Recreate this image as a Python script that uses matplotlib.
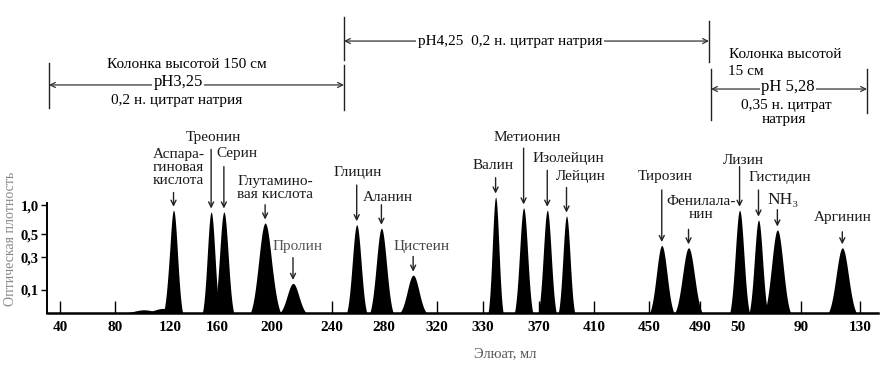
import numpy as np
import matplotlib
matplotlib.use("Agg")
import matplotlib.pyplot as plt

plt.rcParams['font.family'] = ['Liberation Serif', 'DejaVu Serif']

# ── Axis: three eluate scales drawn one after another ──
tick_ml = [40, 80, 120, 160, 200, 240, 280, 320, 330, 370, 410, 450, 490, 50, 90, 130]
tick_seg = [0, 0, 0, 0, 0, 0, 0, 0, 1, 1, 1, 1, 1, 2, 2, 2]
tick_pos = [60, 115, 170, 217, 272, 332, 384, 437, 483, 539, 594, 649, 700, 738, 801, 860]

# optical density scale of the original (value -> height of the printed axis)
od_ticks = [0.1, 0.3, 0.5, 1.0]
od_labels = ['0,1', '0,3', '0,5', '1,0']
od_ref = [0, 0.1, 0.3, 0.5, 1.0, 2.0]
od_height = [0, 23, 56, 79, 108, 140]

# ── Peaks ──
peak_names = ['Аспара-\nгиновая\nкислота', 'Треонин', 'Серин', 'Глутамино-\nвая кислота',
              'Пролин', 'Глицин', 'Аланин', 'Цистеин', 'Валин', 'Метионин', 'Изолейцин',
              'Лейцин', 'Тирозин', 'Фенилала-\nнин', 'Лизин', 'Гистидин', 'NH₃', 'Аргинин']
peak_seg = [0, 0, 0, 0, 0, 0, 0, 0, 1, 1, 1, 1, 1, 1, 2, 2, 2, 2]
peak_ml = [123, 155, 165, 195, 214, 259, 278, 302, 339, 359, 376, 390, 460, 481, 51, 63, 75, 118]
peak_width = [13, 12.5, 12, 18, 15, 13, 15, 17, 9, 11, 11, 10, 16, 18, 10.5, 10, 14, 16]
peak_od = [0.91, 0.88, 0.88, 0.69, 0.14, 0.66, 0.60, 0.19, 1.25, 0.95, 0.91, 0.81,
           0.40, 0.38, 0.91, 0.74, 0.57, 0.38]

# small unlabelled rise before aspartic acid
hump_ml = [101, 115]
hump_width = [26, 26]
hump_od = [0.014, 0.02]

# label placement: x shift from peak, text height and arrow start (axes fraction)
label_dx = [5, 2, 13, 10, 5, 1, 7, 8, -3, 4, 21, 14, 4, 13, 4, 21, 6, 0]
label_y = [1.18, 1.43, 1.30, 1.02, 0.54, 1.14, 0.94, 0.54, 1.20, 1.43, 1.26, 1.11,
           1.11, 0.85, 1.24, 1.10, 0.92, 0.78]
arrow_y = [0.98, 1.33, 1.19, 0.88, 0.45, 1.04, 0.88, 0.46, 1.10, 1.34, 1.16, 1.02,
           1.00, 0.68, 1.19, 1.00, 0.84, 0.66]
label_color = ['#1a1a1a'] * 18
label_color[4] = '#555555'
label_color[7] = '#444444'


def to_h(v):
    return np.interp(v, od_ref, od_height)


def to_od(h):
    return np.interp(h, od_height, od_ref)


def to_pos(ml, seg):
    m = np.array([v for v, s in zip(tick_ml, tick_seg) if s == seg], float)
    p = np.array([v for v, s in zip(tick_pos, tick_seg) if s == seg], float)
    ml = np.atleast_1d(np.asarray(ml, float))
    out = np.interp(ml, m, p)
    lo, hi = ml < m[0], ml > m[-1]
    out[lo] = p[0] + (ml[lo] - m[0]) * (p[1] - p[0]) / (m[1] - m[0])
    out[hi] = p[-1] + (ml[hi] - m[-1]) * (p[-1] - p[-2]) / (m[-1] - m[-2])
    return out


def peak(ax, seg, c, w, h):
    # bell on the printed height scale, brought down to the baseline at the base width
    half = w * 0.6
    g = np.linspace(c - half, c + half, 300)
    u = (g - c) / (half / 2.3)
    e0 = np.exp(-0.5 * 2.3 ** 2)
    shape = (np.exp(-0.5 * u ** 2) - e0) / (1 - e0)
    ax.fill_between(to_pos(g, seg), 0, to_od(to_h(h) * shape), color='black', lw=0, zorder=3)


fig = plt.figure(figsize=(8.89, 3.69), dpi=100)
ax = fig.add_axes([47 / 889, 56 / 369, 831 / 889, 123 / 369])
ax.set_yscale('function', functions=(to_h, to_od))
ax.set_xlim(47, 878)
ax.set_ylim(0, 1.47)

for c, w, h in zip(hump_ml, hump_width, hump_od):
    peak(ax, 0, c, w, h)
for i in range(len(peak_names)):
    peak(ax, peak_seg[i], peak_ml[i], peak_width[i], peak_od[i])
    x = to_pos(peak_ml[i], peak_seg[i])[0]
    ax.annotate('', xy=(x, peak_od[i]), xytext=(x, arrow_y[i]),
                xycoords='data', textcoords=('data', 'axes fraction'),
                arrowprops=dict(arrowstyle='->', lw=1.0, color='#222222',
                                shrinkA=0, shrinkB=2.5, mutation_scale=9),
                annotation_clip=False)
    fs = 12.5 if peak_names[i] == 'NH₃' else 11
    ax.text(x + label_dx[i], label_y[i], peak_names[i], transform=ax.get_xaxis_transform(),
            ha='center', va='center', fontsize=fs, color=label_color[i], linespacing=1.0)

# ── Axes styling ──
for s in ['top', 'right']:
    ax.spines[s].set_visible(False)
ax.spines['bottom'].set_linewidth(1.8)
ax.spines['left'].set_linewidth(1.4)
ax.spines['left'].set_bounds(0, 1.05)

ax.set_xticks(tick_pos)
ax.set_xticklabels([str(v) for v in tick_ml], fontsize=11, fontweight='bold')
ax.tick_params(axis='x', direction='in', length=9, width=1, pad=6)
ax.set_yticks(od_ticks)
ax.set_yticklabels(od_labels, fontsize=10.5, fontweight='bold')
ax.tick_params(axis='y', direction='out', length=4, width=1, pad=2)
ax.minorticks_off()

ax.set_xlabel('Элюат, мл', fontsize=10.5, color='#555555')
ax.xaxis.set_label_coords(0.551, -0.28)
ax.set_ylabel('Оптическая плотность', fontsize=10, color='#888888')
ax.yaxis.set_label_coords(-0.036, 0.6)

# ── Buffer / column annotations above the chart ──
xt = ax.get_xaxis_transform()


def vline(x, y0, y1):
    ax.plot([x, x], [y0, y1], color='#222222', lw=1.0, transform=xt, clip_on=False)


def span(x0, x1, y):
    ax.annotate('', xy=(x0, y), xytext=(x1, y), xycoords=xt, textcoords=xt,
                arrowprops=dict(arrowstyle='<->', lw=0.9, color='#333333',
                                shrinkA=0, shrinkB=0, mutation_scale=9),
                annotation_clip=False)


vline(49, 1.67, 2.03)
vline(344, 2.06, 2.41)
vline(344, 1.65, 2.02)
vline(709, 2.04, 2.37)
vline(711, 1.57, 1.98)
vline(867, 1.63, 1.98)

span(49, 344, 1.854)
span(344, 709, 2.211)
span(711, 867, 1.821)

wb = dict(facecolor='white', edgecolor='none', pad=1)
ax.text(187, 2.02, 'Колонка высотой 150 см', transform=xt, ha='center', va='center', fontsize=11)
ax.text(178, 1.88, 'pH3,25', transform=xt, ha='center', va='center', fontsize=12, bbox=wb)
ax.text(177, 1.73, '0,2 н. цитрат натрия', transform=xt, ha='center', va='center', fontsize=11)
ax.text(510, 2.211, 'pH4,25  0,2 н. цитрат натрия', transform=xt, ha='center', va='center',
        fontsize=11, bbox=wb)
ax.text(785, 2.10, 'Колонка высотой', transform=xt, ha='center', va='center', fontsize=11)
ax.text(728, 1.96, '15 см', transform=xt, ha='left', va='center', fontsize=11)
ax.text(788, 1.837, 'pH 5,28', transform=xt, ha='center', va='center', fontsize=12, bbox=wb)
ax.text(786, 1.69, '0,35 н. цитрат', transform=xt, ha='center', va='center', fontsize=11)
ax.text(784, 1.57, 'натрия', transform=xt, ha='center', va='center', fontsize=11)

fig.savefig('out.png', dpi=100)
